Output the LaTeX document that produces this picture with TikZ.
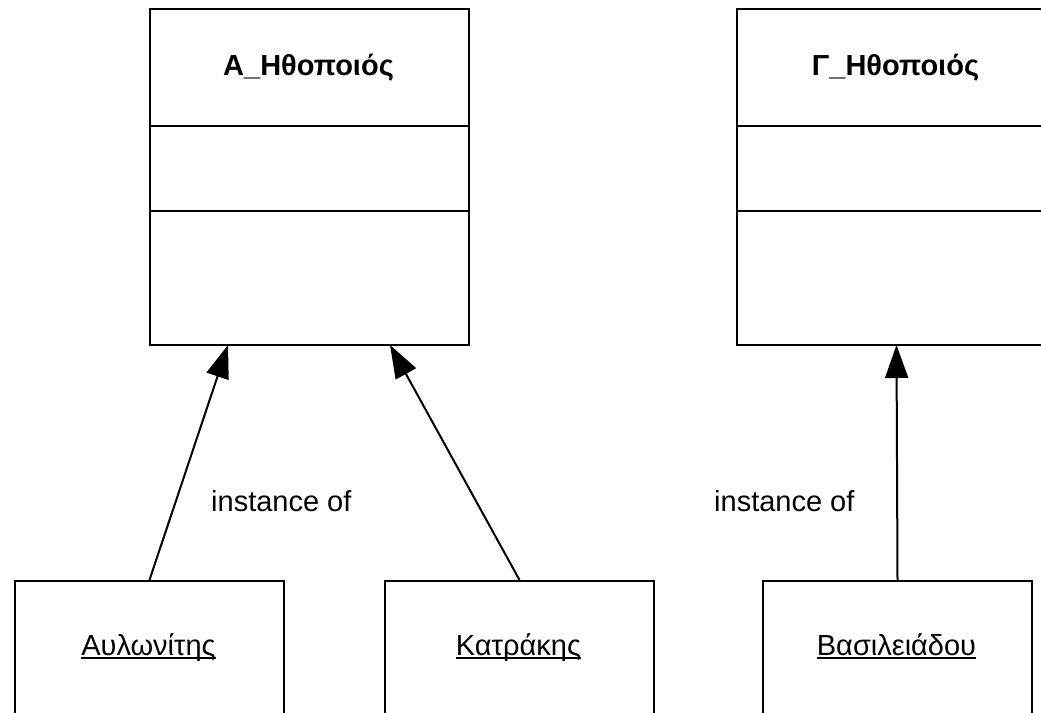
\documentclass[tikz,border=0pt]{standalone}
\usepackage{fontspec}
\setmainfont{Liberation Sans}
\usetikzlibrary{arrows.meta}
% underlined object name with a rule matching the stroke weight
\newcommand\objname[1]{\setbox0\hbox{#1}\rlap{\rule[-4pt]{\wd0}{1.8pt}}\box0}
\begin{document}
\begin{tikzpicture}[x=1pt,y=-1pt,
  classbox/.style={draw, line width=2pt, minimum width=319pt, minimum height=336pt,
    anchor=north west, inner sep=0pt},
  objbox/.style={draw, line width=2pt, minimum width=269pt, minimum height=170pt,
    anchor=north west, inner sep=0pt},
  title/.style={font=\fontsize{29}{34}\selectfont\bfseries, inner sep=0pt},
  oname/.style={font=\fontsize{29}{34}\selectfont, inner sep=0pt, anchor=base},
  lbl/.style={font=\fontsize{29}{34}\selectfont, inner sep=0pt, anchor=base west},
  inst/.style={line width=2pt, -{Triangle[length=33pt,width=23pt]}}]
\useasboundingbox (0,0) rectangle (1041,712);
\fill[white] (0,0) rectangle (1041,712);

% classes
\node[classbox] (A) at (149,8) {};
\node[title] (At) at (308.5,68) {A\_Ηθοποιός};
\draw[line width=2pt] (A.north west) ++(0,118) -- ++(319,0);
\draw[line width=2pt] (A.north west) ++(0,203) -- ++(319,0);

\node[classbox] (G) at (736,8) {};
\node[title] (Gt) at (895.5,68) {Γ\_Ηθοποιός};
\draw[line width=2pt] (G.north west) ++(0,118) -- ++(319,0);
\draw[line width=2pt] (G.north west) ++(0,203) -- ++(319,0);

% objects
\node[objbox] (o1) at (14,580) {};
\node[oname] (o1t) at (148.5,655) {\objname{Αυλωνίτης}};
\node[objbox] (o2) at (384,580) {};
\node[oname] (o2t) at (518.5,655) {\objname{Κατράκης}};
\node[objbox] (o3) at (762,580) {};
\node[oname] (o3t) at (896.5,655) {\objname{Βασιλειάδου}};

% instance-of links
\coordinate (a1) at (228,345);
\coordinate (a2) at (390,345);
\coordinate (g1) at (896.5,345);
\draw[inst] (o1.north) -- (a1);
\draw[inst] (o2.north) -- (a2);
\draw[inst] (o3.north) -- (g1);

\node[lbl] (l1) at (211,511) {instance of};
\node[lbl] (l2) at (714,511) {instance of};
\end{tikzpicture}
\end{document}
